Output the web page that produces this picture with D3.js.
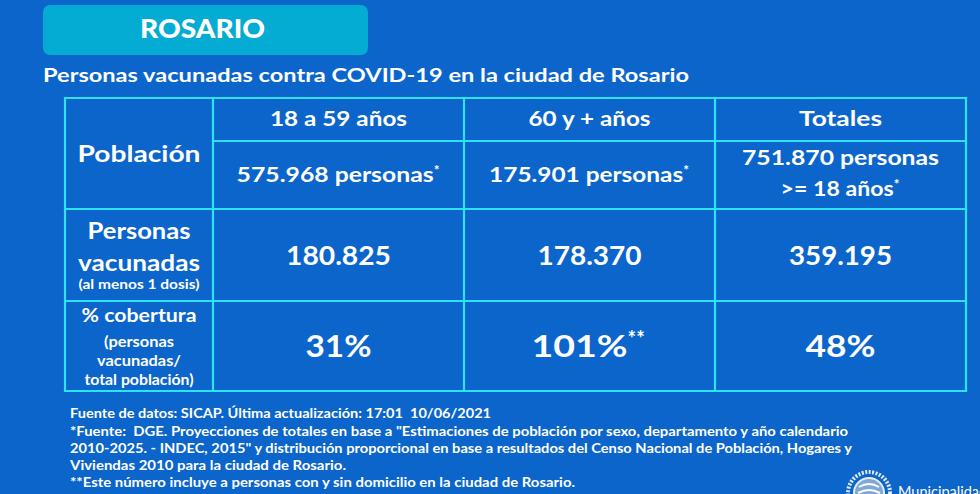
<!DOCTYPE html>
<html><head><meta charset="utf-8">
<script src="https://cdn.jsdelivr.net/npm/d3@7"></script>
<style>
html,body{margin:0;padding:0;background:#0b65cb;overflow:hidden;}
svg{display:block;}
text{font-family:Lato,"Open Sans",sans-serif;fill:#fff;white-space:pre;}
</style></head><body>
<svg id="c" width="980" height="494"></svg>
<script>
const cityName = "ROSARIO";
const subtitle = "Personas vacunadas contra COVID-19 en la ciudad de Rosario";
const groups = ["18 a 59 años", "60 y + años", "Totales"];
const population = ["575.968 personas*", "175.901 personas*", "751.870 personas|>= 18 años*"];
const vaccinated = ["180.825", "178.370", "359.195"];
const coverage = ["31%", "101%**", "48%"];
const rowLabels = [["Población"], ["Personas", "vacunadas", "(al menos 1 dosis)"], ["% cobertura", "(personas", "vacunadas/", "total población)"]];
const footnotes = [
  "Fuente de datos: SICAP. Última actualización: 17:01  10/06/2021",
  "*Fuente:  DGE. Proyecciones de totales en base a \"Estimaciones de población por sexo, departamento y año calendario",
  "2010-2025. - INDEC, 2015\" y distribución proporcional en base a resultados del Censo Nacional de Población, Hogares y",
  "Viviendas 2010 para la ciudad de Rosario.",
  "**Este número incluye a personas con y sin domicilio en la ciudad de Rosario."
];

// measured text widths (px) of the reference lettering
const groupW = [137, 122, 83];
const popW = [[197], [194], [197, 113]];
const vaccW = [105, 104, 103];
const covW = [66, 96, 70];
const labelW = [[123], [103, 122, 121], [115, 70, 84, 109]];
const footW = [421, 778, 782, 276, 505];

const svg = d3.select("#c");
const line = "#2fe2f2";

// title box
svg.append("rect").attr("x",43).attr("y",5).attr("width",325).attr("height",50).attr("rx",7).attr("fill","#04abd2");
svg.append("text").attr("x",140).attr("y",38).attr("font-size",26).attr("font-weight",900)
  .attr("textLength",125).attr("lengthAdjust","spacingAndGlyphs").text(cityName);
svg.append("text").attr("x",43).attr("y",82).attr("font-size",18.5).attr("font-weight",700)
  .attr("textLength",646).attr("lengthAdjust","spacingAndGlyphs").text(subtitle);

// table geometry via scales
const colEdges = [65, 213, 464, 715, 966];
const rowEdges = [98, 141, 209, 301, 391];
const x = d3.scaleOrdinal().domain(d3.range(5)).range(colEdges);
const y = d3.scaleOrdinal().domain(d3.range(5)).range(rowEdges);
const cx = i => (x(i) + x(i+1)) / 2;

const g = svg.append("g");
const lines = [];
lines.push([x(0),y(0),x(4),y(0)],[x(0),y(4),x(4),y(4)],[x(0),y(0),x(0),y(4)],[x(4),y(0),x(4),y(4)]);
[1,2,3].forEach(i=>lines.push([x(i),y(0),x(i),y(4)]));
lines.push([x(1),y(1),x(4),y(1)]);
[2,3].forEach(j=>lines.push([x(0),y(j),x(4),y(j)]));
g.selectAll("line").data(lines).join("line")
  .attr("x1",d=>d[0]).attr("y1",d=>d[1]).attr("x2",d=>d[2]).attr("y2",d=>d[3])
  .attr("stroke",line).attr("stroke-width",2.2).attr("stroke-linecap","square");

// text with optional superscript asterisks, main part stretched to reference width
function addText(sel, xx, yy, str, size, weight, w) {
  const m = str.match(/^(.*?)(\*+)$/);
  const main = m ? m[1] : str;
  const star = m ? m[2] : "";
  const starW = star.length * size * 0.32;
  const total = w + starW;
  const left = xx - total / 2;
  const t = sel.append("text").attr("x",left).attr("y",yy)
    .attr("font-size",size).attr("font-weight",weight);
  t.append("tspan").attr("textLength",w).attr("lengthAdjust","spacingAndGlyphs").text(main);
  if (star) t.append("tspan").attr("dy",-size*0.35).attr("font-size",size*0.65).text(star);
  return t;
}

groups.forEach((d,i)=>addText(g, cx(i+1), 126, d, 21, 700, groupW[i]));
population.forEach((d,i)=>{
  const parts = d.split("|");
  if (parts.length===1) addText(g, cx(i+1), 182, parts[0], 21, 700, popW[i][0]);
  else { addText(g, cx(i+1), 165, parts[0], 21, 700, popW[i][0]); addText(g, cx(i+1), 196, parts[1], 21, 700, popW[i][1]); }
});
vaccinated.forEach((d,i)=>addText(g, cx(i+1), 265, d, 26, 700, vaccW[i]));
coverage.forEach((d,i)=>addText(g, cx(i+1), 357, d, 31, 700, covW[i]));

const labelY = [[162], [239, 271, 289], [322, 347, 366, 385]];
const labelS = [[23], [22, 22, 13], [19.5, 14.5, 14.5, 14.5]];
rowLabels.forEach((arr,r)=>arr.forEach((d,k)=>addText(g, cx(0), labelY[r][k], d, labelS[r][k], 700, labelW[r][k])));

// footnotes
const fy = [418, 436, 453, 470, 487];
footnotes.forEach((d,i)=>{
  svg.append("text").attr("x",70).attr("y",fy[i]).attr("font-size",14).attr("font-weight",700)
    .attr("font-family","'Liberation Sans Narrow','DejaVu Sans Condensed',sans-serif")
    .attr("textLength",footW[i]).attr("lengthAdjust","spacingAndGlyphs").text(d);
});

// logo
const lg = svg.append("g").attr("transform","translate(869,493)");
lg.append("circle").attr("r",21).attr("fill","none").attr("stroke","#dfe9f5").attr("stroke-width",4).attr("stroke-dasharray","2 1.5");
lg.append("circle").attr("r",15).attr("fill","#7fa8d8").attr("stroke","#e8eef7").attr("stroke-width",2);
lg.append("path").attr("d","M-10,-6 Q0,-12 10,-6 M-11,0 Q0,-6 11,0 M-10,6 Q0,0 10,6").attr("stroke","#fff").attr("stroke-width",2).attr("fill","none");
svg.append("text").attr("x",898).attr("y",497).attr("font-size",14.5).attr("font-weight",400)
  .attr("font-family","'Open Sans',sans-serif").text("Municipalidad");
</script>
</body></html>
